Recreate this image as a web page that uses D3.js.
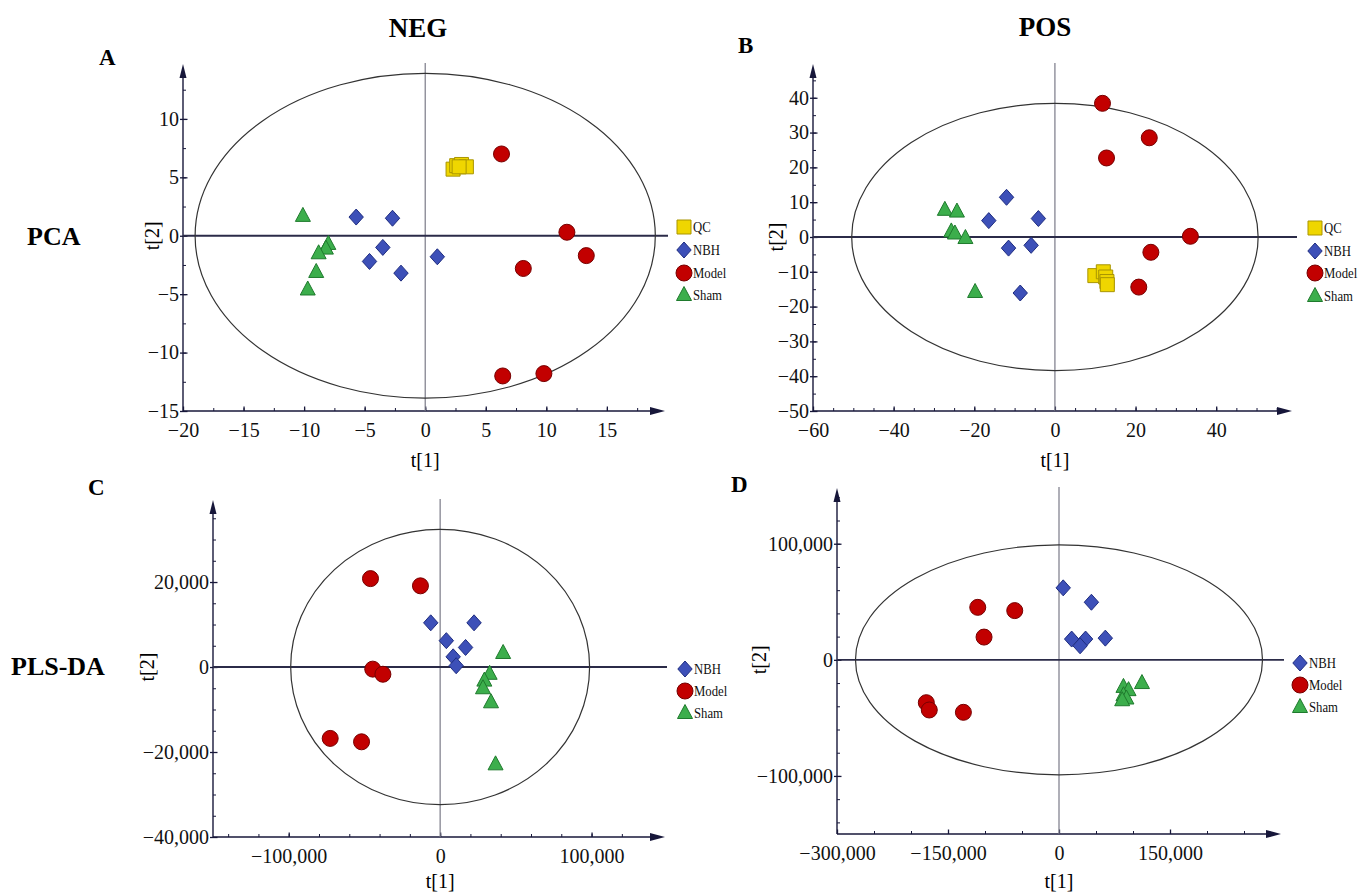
<!DOCTYPE html>
<html>
<head>
<meta charset="utf-8">
<script src="https://cdn.jsdelivr.net/npm/d3@7"></script>
<style>
  body { margin: 0; background: #fff; }
  svg, svg text { font-family: "Liberation Serif", "Times New Roman", serif; }
  svg { display: block; }
</style>
</head>
<body>
<div id="chart"></div>
<script>
// ---- data: [t1, t2] score pairs ----
// A: NEG PCA
const negPcaQC    = [[2.3, 5.7], [2.6, 6.0], [3.0, 6.1], [3.4, 5.9], [2.8, 5.9]];
const negPcaNBH   = [[-5.7, 1.6], [-2.7, 1.5], [-3.5, -1.0], [-4.6, -2.2], [-2.0, -3.2], [1.0, -1.8]];
const negPcaModel = [[6.3, 7.0], [11.7, 0.3], [13.3, -1.7], [8.1, -2.8], [6.4, -12.0], [9.8, -11.8]];
const negPcaSham  = [[-10.1, 1.7], [-8.0, -0.7], [-8.2, -1.1], [-8.8, -1.5], [-9.0, -3.1], [-9.7, -4.6]];

// B: POS PCA
const posPcaQC    = [[9.9, -11.1], [12.0, -10.0], [12.6, -11.5], [12.9, -12.8], [13.0, -13.7]];
const posPcaNBH   = [[-12.0, 11.4], [-16.4, 4.7], [-4.1, 5.3], [-11.5, -3.2], [-5.9, -2.4], [-8.6, -16.1]];
const posPcaModel = [[11.8, 38.4], [23.4, 28.5], [12.8, 22.7], [33.6, 0.2], [23.8, -4.4], [20.8, -14.4]];
const posPcaSham  = [[-27.3, 7.8], [-24.3, 7.3], [-25.7, 1.6], [-24.8, 1.0], [-22.2, -0.3], [-19.8, -15.8]];

// C: NEG PLS-DA
const negPlsNBH   = [[-6200, 10400], [22400, 10400], [4100, 6200], [16800, 4600], [8600, 2400], [10600, 300]];
const negPlsModel = [[-46000, 20800], [-13000, 19100], [-44500, -500], [-37800, -1700], [-72600, -16800], [-51900, -17600]];
const negPlsSham  = [[41600, 3300], [32700, -1600], [29200, -3200], [28300, -5000], [33600, -8300], [36600, -22900]];

// D: POS PLS-DA
const posPlsNBH   = [[5700, 62000], [43800, 49600], [17100, 17900], [35900, 17900], [28500, 12100], [62600, 18700]];
const posPlsModel = [[-109800, 45200], [-59800, 42400], [-101300, 19600], [-179300, -36900], [-175300, -43200], [-129200, -45200]];
const posPlsSham  = [[112100, -20000], [87100, -23300], [94000, -26100], [87100, -30500], [91100, -33300], [85400, -34800]];

// tick labels
const ticksAX = [-20, -15, -10, -5, 0, 5, 10, 15];
const ticksAY = [-15, -10, -5, 0, 5, 10];
const ticksBX = [-60, -40, -20, 0, 20, 40];
const ticksBY = [-50, -40, -30, -20, -10, 0, 10, 20, 30, 40];
const ticksCX = [-100000, 0, 100000];
const ticksCY = [-40000, -20000, 0, 20000];
const ticksDX = [-300000, -150000, 0, 150000];
const ticksDY = [-100000, 0, 100000];

const width = 1359;
const height = 893;
const serif = '"Liberation Serif", "Times New Roman", serif';

const svg = d3.select("#chart")
    .append("svg")
    .attr("width", width)
    .attr("height", height)
    .attr("viewBox", `0 0 ${width} ${height}`);

const styles = {
    QC:    { fill: "#efd600", stroke: "#a99500" },
    NBH:   { fill: "#3d50b8", stroke: "#1f2d80" },
    Model: { fill: "#c20000", stroke: "#760000" },
    Sham:  { fill: "#3cae4c", stroke: "#1f7a2d" }
};

const shapes = {
    QC: "M-7,-7H7V7H-7Z",
    NBH: "M0,-8L7.2,0L0,8L-7.2,0Z",
    Model: d3.symbol().type(d3.symbolCircle).size(Math.PI * 64)(),
    Sham: "M0,-8.5L7.5,5.5H-7.5Z"
};

const panels = [
    {
        groups: { QC: negPcaQC, NBH: negPcaNBH, Model: negPcaModel, Sham: negPcaSham },
        xDom: [-20, 19.8], xPx: [183, 665], yDom: [-15, 14.7], yPx: [411, 64],
        xTicks: ticksAX, yTicks: ticksAY, xMinor: 2.5, yMinor: 2.5,
        ellipse: [19.0, 13.9], fmt: d3.format("d"),
        zeroEnd: 668,
        xTitleY: 467, yTitleX: 152,
        legendX: 684, legendY: [227, 250, 273, 295]
    },
    {
        groups: { QC: posPcaQC, NBH: posPcaNBH, Model: posPcaModel, Sham: posPcaSham },
        xDom: [-60, 58.8], xPx: [813, 1292], yDom: [-50, 49.7], yPx: [411, 64],
        xTicks: ticksBX, yTicks: ticksBY, xMinor: 5, yMinor: 5,
        ellipse: [50.4, 38.4], fmt: d3.format("d"),
        zeroEnd: 1297,
        xTitleY: 467, yTitleX: 776,
        legendX: 1315, legendY: [228, 251, 273, 296]
    },
    {
        groups: { NBH: negPlsNBH, Model: negPlsModel, Sham: negPlsSham },
        xDom: [-150000, 148500], xPx: [213, 665], yDom: [-40000, 39300], yPx: [837, 500],
        xTicks: ticksCX, yTicks: ticksCY, xMinor: 20000, yMinor: 5000,
        ellipse: [98700, 32400], fmt: d3.format(","),
        zeroEnd: 667,
        xTitleY: 888, yTitleX: 147,
        legendX: 685, legendY: [669, 691, 713]
    },
    {
        groups: { NBH: posPlsNBH, Model: posPlsModel, Sham: posPlsSham },
        xDom: [-300000, 300000], xPx: [837, 1281], yDom: [-150000, 148000], yPx: [834, 488],
        xTicks: ticksDX, yTicks: ticksDY, xMinor: 50000, yMinor: 20000,
        ellipse: [275000, 99000], fmt: d3.format(","),
        zeroEnd: 1284,
        xTitleY: 888, yTitleX: 759,
        legendX: 1300, legendY: [663, 685, 707]
    }
];

const axisColor = "#17173a";

const styleAxis = a => {
    a.attr("font-family", null).attr("font-size", null);
    a.select(".domain").remove();
    a.selectAll("line").attr("stroke", axisColor);
    a.selectAll("text")
        .style("font-family", serif)
        .style("font-size", "20px")
        .attr("fill", "#111");
};

const drawPanel = p => {
    const x = d3.scaleLinear().domain(p.xDom).range(p.xPx);
    const y = d3.scaleLinear().domain(p.yDom).range(p.yPx);
    const g = svg.append("g");

    const xMinorVals = d3.range(Math.ceil(p.xDom[0] / p.xMinor) * p.xMinor, p.xDom[1], p.xMinor);
    const yMinorVals = d3.range(Math.ceil(p.yDom[0] / p.yMinor) * p.yMinor, p.yDom[1], p.yMinor);

    // minor ticks
    g.append("g")
        .attr("transform", `translate(0, ${p.yPx[0]})`)
        .call(d3.axisBottom(x).tickValues(xMinorVals).tickSizeInner(-3).tickSizeOuter(0).tickFormat(""))
        .call(styleAxis);
    g.append("g")
        .attr("transform", `translate(${p.xPx[0]}, 0)`)
        .call(d3.axisLeft(y).tickValues(yMinorVals).tickSizeInner(-3).tickSizeOuter(0).tickFormat(""))
        .call(styleAxis);

    // major ticks and labels
    g.append("g")
        .attr("transform", `translate(0, ${p.yPx[0]})`)
        .call(d3.axisBottom(x).tickValues(p.xTicks).tickFormat(p.fmt)
            .tickSizeInner(-4.5).tickSizeOuter(0).tickPadding(12))
        .call(styleAxis)
        .call(a => a.selectAll("line").attr("stroke-width", 1.3));

    g.append("g")
        .attr("transform", `translate(${p.xPx[0]}, 0)`)
        .call(d3.axisLeft(y).tickValues(p.yTicks).tickFormat(p.fmt)
            .tickSizeInner(-4.5).tickSizeOuter(0).tickPadding(4))
        .call(styleAxis)
        .call(a => a.selectAll("line").attr("stroke-width", 1.3).attr("x1", -3));

    // axis lines with arrows
    g.append("line")
        .attr("x1", p.xPx[0]).attr("x2", p.xPx[1] - 8)
        .attr("y1", p.yPx[0]).attr("y2", p.yPx[0])
        .attr("stroke", axisColor).attr("stroke-width", 1.4);
    g.append("line")
        .attr("x1", p.xPx[0]).attr("x2", p.xPx[0])
        .attr("y1", p.yPx[0]).attr("y2", p.yPx[1] + 8)
        .attr("stroke", axisColor).attr("stroke-width", 1.4);
    g.append("path")
        .attr("d", `M${p.xPx[1]},${p.yPx[0]}l-15,-4v8z`)
        .attr("fill", axisColor);
    g.append("path")
        .attr("d", `M${p.xPx[0]},${p.yPx[1]}l-3.5,14h7z`)
        .attr("fill", axisColor);

    // zero lines
    g.append("line")
        .attr("x1", x(0)).attr("x2", x(0))
        .attr("y1", p.yPx[1] - 1).attr("y2", p.yPx[0])
        .attr("stroke", "#7a7a88").attr("stroke-width", 1.2);
    g.append("line")
        .attr("x1", p.xPx[0]).attr("x2", p.zeroEnd)
        .attr("y1", y(0)).attr("y2", y(0))
        .attr("stroke", "#2b2b48").attr("stroke-width", 1.8);

    // Hotelling ellipse
    g.append("ellipse")
        .attr("cx", x(0)).attr("cy", y(0))
        .attr("rx", x(p.ellipse[0]) - x(0))
        .attr("ry", y(0) - y(p.ellipse[1]))
        .attr("fill", "none")
        .attr("stroke", "#333")
        .attr("stroke-width", 1.2);

    // points
    Object.entries(p.groups).forEach(([name, pts]) => {
        g.append("g").selectAll("path")
            .data(pts)
            .join("path")
            .attr("d", shapes[name])
            .attr("transform", d => `translate(${x(d[0])}, ${y(d[1])})`)
            .attr("fill", styles[name].fill)
            .attr("stroke", styles[name].stroke)
            .attr("stroke-width", 1);
    });

    // axis titles
    g.append("text")
        .attr("x", x(0)).attr("y", p.xTitleY)
        .attr("text-anchor", "middle")
        .style("font-family", serif)
        .style("font-size", "20px")
        .text("t[1]");
    g.append("text")
        .attr("transform", `translate(${p.yTitleX}, ${y(0)}) rotate(-90)`)
        .attr("text-anchor", "middle")
        .attr("dy", "0.35em")
        .style("font-family", serif)
        .style("font-size", "20px")
        .text("t[2]");

    // legend
    const legend = g.append("g");
    Object.keys(p.groups).forEach((name, i) => {
        const row = legend.append("g")
            .attr("transform", `translate(${p.legendX}, ${p.legendY[i]})`);
        row.append("path")
            .attr("d", shapes[name])
            .attr("fill", styles[name].fill)
            .attr("stroke", styles[name].stroke);
        row.append("text")
            .attr("transform", "translate(9, 0) scale(0.85, 1)")
            .attr("dy", "0.35em")
            .style("font-family", serif)
            .style("font-size", "15px")
            .attr("fill", "#111")
            .text(name);
    });
};

panels.forEach(drawPanel);

// panel letters and headings
const headings = [
    { t: "NEG", x: 418, y: 37, s: 27, a: "middle" },
    { t: "POS", x: 1045, y: 36, s: 27, a: "middle" },
    { t: "A", x: 99, y: 65, s: 23, a: "start" },
    { t: "B", x: 738, y: 53, s: 23, a: "start" },
    { t: "C", x: 88, y: 495, s: 23, a: "start" },
    { t: "D", x: 731, y: 492, s: 23, a: "start" },
    { t: "PCA", x: 27, y: 245, s: 26, a: "start" },
    { t: "PLS-DA", x: 11, y: 675, s: 26, a: "start" }
];

svg.append("g").selectAll("text")
    .data(headings)
    .join("text")
    .attr("x", d => d.x)
    .attr("y", d => d.y)
    .attr("text-anchor", d => d.a)
    .style("font-family", serif)
    .style("font-size", d => d.s + "px")
    .attr("font-weight", "bold")
    .attr("fill", "#000")
    .text(d => d.t);
</script>
</body>
</html>
